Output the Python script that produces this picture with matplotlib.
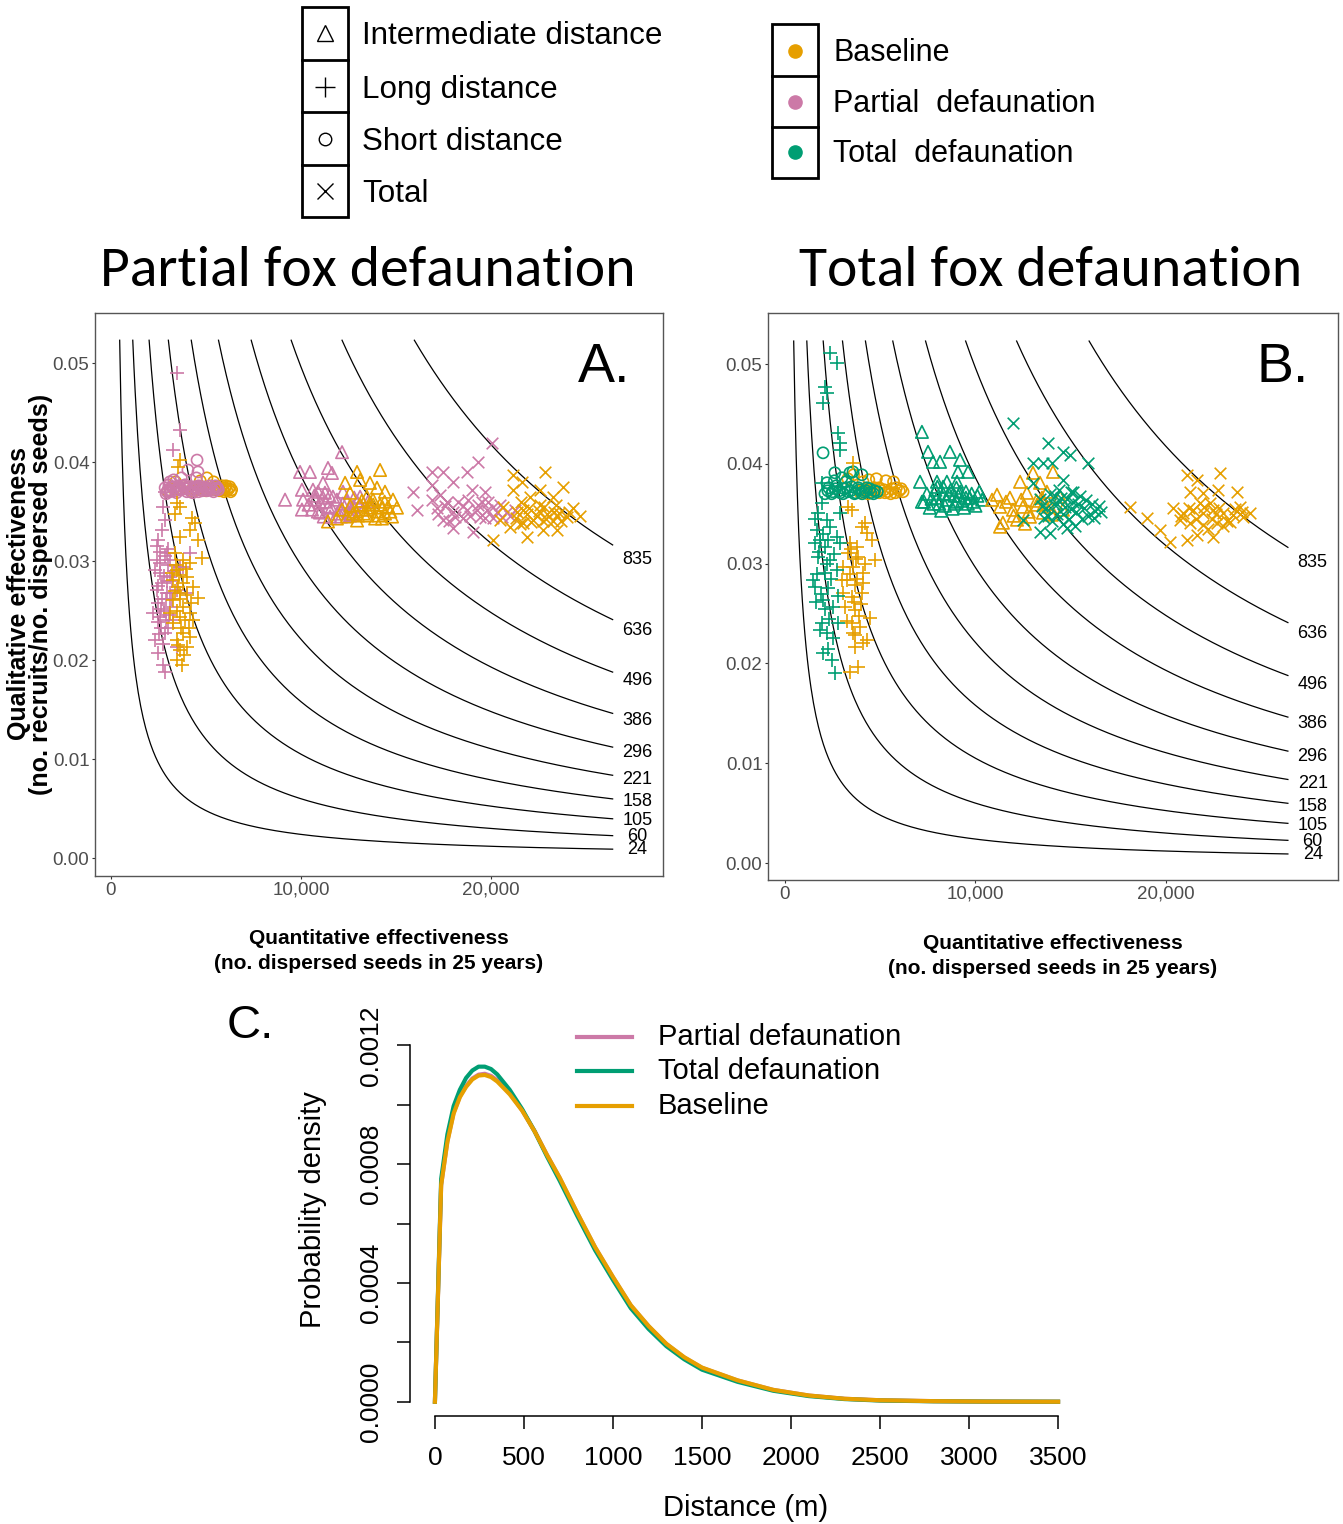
import numpy as np
import matplotlib
matplotlib.use('Agg')
import matplotlib.pyplot as plt
from matplotlib import font_manager
from matplotlib.patches import Rectangle

W, H = 1343, 1524

have = {f.name for f in font_manager.fontManager.ttflist}
narrow = 'Liberation Sans Narrow' if 'Liberation Sans Narrow' in have else 'Liberation Sans'
sans = 'Liberation Sans'
title_font = 'Carlito' if 'Carlito' in have else 'Open Sans'

c_base = '#E69F00'
c_part = '#CC79A7'
c_tot = '#009E73'

# isoclines (no. recruits)
iso_levels = [24, 60, 105, 158, 221, 296, 386, 496, 636, 835]

# ---------------- panel A : partial fox defaunation ----------------
a_base_short_x = [3000, 3300, 3600, 3900, 4200, 4400, 4600, 4800, 5000, 5050, 5200, 5400, 5550, 5700, 5800, 5900, 6000, 6100, 6200, 6350, 4700, 5400, 3400,
                  6250, 6300, 6050, 5950, 5650, 5850]
a_base_short_y = [.0371, .0373, .0372, .0374, .0371, .0373, .0372, .0374, .0371, .0384, .0373, .0372, .0375, .0371, .0373, .0372, .0374, .0371, .0373, .0372, .0381, .0380, .0380,
                  .0375, .0370, .0376, .0370, .0374, .0376]
a_part_short_x = [2850, 2900, 3050, 3150, 3300, 3450, 3550, 3700, 3850, 4000, 4150, 4300, 4450, 4600, 4750, 4900, 5050, 5200, 5350, 5500, 5650, 3300, 3700, 4050, 4500, 3100, 4530, 4580, 2950,
                  3000, 3200, 3400, 3600, 3800, 4000, 4200, 4400, 4600, 4800, 5000, 5200, 5400, 5600, 3100, 3500, 3900, 4300, 4700, 5100, 5500]
a_part_short_y = [.0374, .0368, .0377, .0371, .0374, .0369, .0376, .0372, .0374, .0370, .0375, .0372, .0374, .0370, .0373, .0375, .0371, .0374, .0372, .0373, .0372, .0382, .0384, .0392, .0384, .0380, .0402, .0390, .0370,
                  .0372, .0375, .0371, .0374, .0376, .0373, .0370, .0375, .0376, .0371, .0373, .0376, .0370, .0374, .0370, .0372, .0377, .0369, .0375, .0372, .0376]
a_part_long_x = [3460, 3630, 3260, 2840, 2740, 2840, 2680, 2470, 2580, 2950, 2420, 3110, 4160, 2580, 3110, 3630, 2420, 2950, 3470, 2470, 3110, 4000, 2580, 3260, 2320, 2840, 2470, 3470, 2740, 2840, 2210, 2320, 3790, 2700, 2900, 3000, 2800, 3200, 2650, 3000,
                 2400, 2600, 2800, 3000, 3200, 2500, 2700, 2900, 3100, 3300, 2450, 2650, 2850, 3050, 2550, 2750, 2950]
a_part_long_y = [.0490, .0432, .0412, .0370, .0355, .0341, .0331, .0321, .0309, .0308, .0301, .0301, .0308, .0288, .0284, .0294, .0271, .0268, .0271, .0258, .0254, .0268, .0244, .0240, .0220, .0227, .0207, .0213, .0195, .0188, .0248, .0291, .0294, .0278, .0262, .0296, .0250, .0280, .0232, .0232,
                 .0315, .0298, .0285, .0312, .0262, .0275, .0262, .0240, .0268, .0290, .0238, .0252, .0305, .0246, .0226, .0216, .0280]
a_base_long_x = [3630, 3530, 3470, 3630, 3370, 4420, 4160, 3630, 4580, 4260, 3370, 3790, 4790, 3470, 4000, 3260, 4320, 3630, 3260, 3790, 4580, 4160, 3630, 3260, 4320, 3790, 3470, 4160, 3630, 4000, 3470, 3740, 3210, 3530, 3110,
                 3400, 3600, 3800, 4000, 4200, 3500, 3700, 3900, 4100, 3350, 3650, 3950, 3550, 3850, 4150]
a_base_long_y = [.0402, .0395, .0359, .0355, .0348, .0338, .0331, .0324, .0321, .0344, .0308, .0301, .0303, .0291, .0284, .0281, .0274, .0268, .0261, .0254, .0263, .0248, .0244, .0237, .0240, .0227, .0220, .0223, .0210, .0213, .0200, .0195, .0288, .0274, .0248,
                 .0296, .0286, .0278, .0266, .0258, .0250, .0232, .0240, .0232, .0270, .0262, .0292, .0215, .0205, .0298]
a_part_mid_x = [9160, 9950, 10470, 12160, 11420, 11630, 10050, 10630, 11160, 10110, 10740, 10050, 10580, 11260, 11000, 11420, 11890, 12050, 12420, 12740, 13110, 13260, 11530, 12580, 10890, 11680, 12210, 11160, 13530, 12950,
                10400, 10700, 11000, 11300, 11600, 11900, 12200, 12500, 12800, 13100, 10900, 11500, 12100, 12700, 11200]
a_part_mid_y = [.0362, .0390, .0390, .0410, .0394, .0389, .0372, .0372, .0379, .0362, .0362, .0352, .0352, .0369, .0359, .0355, .0362, .0352, .0360, .0355, .0365, .0352, .0345, .0346, .0350, .0365, .0370, .0364, .0360, .0360,
                .0357, .0366, .0349, .0360, .0354, .0348, .0358, .0350, .0364, .0357, .0370, .0366, .0345, .0347, .0345]
a_base_mid_x = [14160, 12950, 13110, 13630, 12320, 14420, 14000, 14840, 12580, 13470, 13790, 14160, 14580, 15050, 13630, 13110, 14000, 14420, 13470, 12740, 12420, 11420, 11890, 14790, 12160, 12950, 14260, 13630,
                12600, 12900, 13200, 13500, 13800, 14100, 14400, 14700, 13000, 13300, 13900, 14300]
a_base_mid_y = [.0392, .0390, .0382, .0379, .0379, .0370, .0374, .0362, .0369, .0365, .0362, .0357, .0355, .0354, .0354, .0357, .0350, .0348, .0346, .0348, .0345, .0340, .0343, .0345, .0352, .0341, .0343, .0359,
                .0356, .0350, .0361, .0352, .0357, .0346, .0360, .0350, .0346, .0348, .0343, .0354]
a_part_tot_x = [20050, 15890, 16110, 19320, 16890, 17470, 18740, 18000, 16890, 17320, 19000, 19680, 17680, 18260, 18740, 18000, 19260, 19790, 20320, 20840, 21260, 17470, 18530, 19420, 20110, 18000, 19050, 17160, 19840, 20470, 16890,
                17200, 17600, 18100, 18500, 18900, 19300, 19700, 20100, 20600, 21000, 17800, 18800, 19500]
a_part_tot_y = [.0419, .0370, .0352, .0400, .0390, .0390, .0390, .0380, .0362, .0367, .0372, .0370, .0360, .0360, .0352, .0350, .0352, .0352, .0350, .0350, .0352, .0341, .0343, .0345, .0343, .0333, .0329, .0354, .0360, .0357, .0377,
                .0348, .0356, .0345, .0356, .0346, .0357, .0344, .0355, .0345, .0346, .0340, .0362, .0360]
a_base_tot_x = [22840, 21160, 21630, 23790, 21160, 22580, 22050, 23260, 24320, 20630, 21370, 21890, 22420, 22950, 23470, 24000, 22210, 22740, 23260, 21680, 21000, 20110, 21890, 22740, 23470, 24680, 20470, 22580, 21580, 23420,
                21300, 21700, 22100, 22500, 22900, 23300, 23700, 24100, 22000, 22800, 23600, 21500]
a_base_tot_y = [.0390, .0387, .0380, .0375, .0372, .0372, .0365, .0365, .0354, .0355, .0350, .0348, .0346, .0348, .0346, .0345, .0341, .0340, .0340, .0338, .0334, .0321, .0324, .0331, .0331, .0346, .0341, .0357, .0360, .0357,
                .0344, .0352, .0339, .0351, .0342, .0350, .0340, .0350, .0354, .0355, .0349, .0337]

# ---------------- panel B : total fox defaunation ----------------
b_base_short_x = [3950, 4200, 4450, 4700, 4950, 5200, 5400, 5600, 5800, 6000, 6200, 4400, 4800, 5300, 5700, 4100, 3300, 3600,
                  4050, 4350, 4650, 4950, 5250, 5550, 5850, 6100]
b_base_short_y = [.0371, .0375, .0372, .0376, .0371, .0374, .0372, .0375, .0371, .0373, .0372, .0384, .0385, .0383, .0382, .0382, .0385, .0389,
                  .0374, .0370, .0373, .0376, .0371, .0370, .0376, .0375]
b_tot_short_x = [2000, 2620, 3410, 3570, 4040, 2990, 2100, 2300, 2500, 2700, 2900, 3100, 3300, 3500, 3700, 3900, 4100, 4300, 4500, 4700, 4850, 2200, 2600, 3200,
                 2250, 2450, 2650, 2850, 3050, 3250, 3450, 3650, 3850, 4050, 4250, 4450, 4650]
b_tot_short_y = [.0411, .0391, .0391, .0392, .0389, .0386, .0370, .0376, .0372, .0378, .0371, .0375, .0372, .0377, .0371, .0374, .0372, .0376, .0371, .0373, .0372, .0381, .0383, .0382,
                 .0373, .0370, .0375, .0373, .0370, .0376, .0373, .0370, .0376, .0370, .0373, .0375, .0370]
b_tot_long_x = [2360, 2730, 2100, 2200, 2000, 2780, 2890, 2890, 1940, 1940, 1730, 2890, 2200, 1680, 2360, 2730, 1570, 2100, 2890, 1730, 2360, 2100, 2730, 1570, 2260, 2000, 2520, 1840, 2200, 2780, 2000, 2470, 2620, 1470, 1840, 2260,
                1600, 1800, 2000, 2200, 2400, 2600, 2800, 1700, 1900, 2100, 2300, 2500, 1650, 1950, 2250]
b_tot_long_y = [.0511, .0501, .0477, .0471, .0461, .0431, .0421, .0414, .0381, .0361, .0351, .0351, .0344, .0334, .0337, .0327, .0321, .0317, .0321, .0307, .0304, .0291, .0294, .0277, .0276, .0264, .0257, .0233, .0230, .0240, .0210, .0203, .0190, .0284, .0324, .0324,
                .0345, .0312, .0330, .0300, .0285, .0310, .0268, .0290, .0270, .0255, .0245, .0225, .0262, .0240, .0214]
b_base_long_x = [3570, 3310, 3520, 4200, 4300, 4040, 4570, 4720, 3410, 3310, 3830, 3040, 3570, 4090, 3250, 3670, 3040, 3520, 4040, 3150, 3670, 4460, 3250, 3940, 3570, 4090, 3670, 3830, 3410, 4300, 2990, 3780,
                 3400, 3600, 3800, 4000, 4200, 3500, 3700, 3900, 4100, 3450, 3750]
b_base_long_y = [.0401, .0357, .0354, .0341, .0331, .0337, .0324, .0304, .0321, .0311, .0307, .0297, .0297, .0291, .0284, .0279, .0271, .0267, .0271, .0257, .0254, .0246, .0243, .0236, .0230, .0220, .0216, .0196, .0191, .0223, .0284, .0317,
                 .0290, .0262, .0285, .0260, .0300, .0240, .0228, .0248, .0281, .0315, .0305]
b_tot_mid_x = [7190, 7510, 8660, 7770, 8140, 9190, 9080, 9610, 7090, 7980, 8500, 9030, 7190, 7450, 7700, 7900, 8100, 8300, 8500, 8700, 8900, 9100, 9300, 9500, 9700, 9900, 10100, 10350, 7600, 8200, 8800, 9400, 8000, 9000, 7300,
               7800, 8000, 8400, 8600, 9000, 9200, 9600, 9800, 10000, 10200, 8300, 8900, 9500]
b_tot_mid_y = [.0432, .0412, .0412, .0402, .0402, .0404, .0392, .0392, .0382, .0382, .0382, .0382, .0362, .0370, .0365, .0374, .0360, .0370, .0364, .0374, .0360, .0368, .0363, .0372, .0366, .0362, .0368, .0364, .0356, .0353, .0355, .0356, .0377, .0376, .0362,
               .0360, .0366, .0358, .0370, .0362, .0372, .0360, .0370, .0358, .0372, .0377, .0368, .0366]
b_base_mid_x = [14070, 13020, 12340, 13390, 11130, 11810, 12700, 13750, 14440, 11290, 11970, 12490, 13230, 13910, 14590, 11440, 12180, 12860, 11290, 13540, 10870, 13490,
                11600, 12000, 12400, 12800, 13200, 13600, 14000, 12600]
b_base_mid_y = [.0392, .0391, .0382, .0381, .0369, .0366, .0371, .0372, .0367, .0357, .0354, .0357, .0359, .0357, .0354, .0341, .0344, .0347, .0337, .0351, .0364, .0366,
                .0362, .0348, .0364, .0352, .0363, .0360, .0349, .0340]
b_tot_tot_x = [11970, 13810, 14590, 14960, 15910, 13020, 13540, 14020, 14590, 13020, 15120, 13400, 13700, 13900, 14100, 14300, 14500, 14700, 14900, 15100, 15300, 15500, 15700, 15900, 16100, 16300, 16600, 14000, 14600, 15200, 13600, 14400, 15000, 13390, 13910, 14800, 12490,
               13500, 13800, 14200, 14600, 15000, 15400, 15800, 16200, 14800, 15600, 16500, 14300]
b_tot_tot_y = [.0441, .0421, .0412, .0409, .0401, .0401, .0401, .0401, .0384, .0381, .0372, .0365, .0356, .0370, .0360, .0350, .0366, .0357, .0345, .0362, .0352, .0368, .0356, .0348, .0360, .0353, .0352, .0343, .0340, .0338, .0346, .0374, .0372, .0332, .0331, .0336, .0344,
               .0358, .0348, .0368, .0350, .0355, .0360, .0364, .0346, .0365, .0345, .0358, .0360]
b_base_tot_x = [18110, 19000, 19690, 20210, 21100, 22830, 21630, 21260, 21940, 22730, 23730, 20370, 20890, 21420, 21940, 22470, 22990, 23520, 24040, 24410, 21260, 21940, 22680, 23360, 21630, 22470, 21100, 20730, 22310, 23890, 21790,
                20800, 21200, 21600, 22000, 22400, 22800, 23200, 23600, 24000, 22200, 22600, 23000]
b_base_tot_y = [.0357, .0346, .0334, .0322, .0389, .0391, .0384, .0372, .0371, .0374, .0372, .0356, .0351, .0354, .0351, .0354, .0351, .0349, .0347, .0351, .0341, .0339, .0341, .0342, .0329, .0327, .0324, .0344, .0361, .0357, .0361,
                .0348, .0356, .0345, .0357, .0345, .0356, .0343, .0355, .0352, .0335, .0350, .0338]

# ---------------- panel C : dispersal kernels ----------------
dist_m = [0, 35, 70, 105, 140, 175, 210, 245, 280, 315, 350, 420, 490, 560, 630, 700, 800, 900, 1000, 1100, 1200, 1300, 1400, 1500, 1700, 1900, 2100, 2300, 2500, 2800, 3100, 3500]
dens_base = [0, 0.00073, 0.000875, 0.00097, 0.001025, 0.00106, 0.001085, 0.001098, 0.0011, 0.001093, 0.001078, 0.001035, 0.00098, 0.00091, 0.00083, 0.000755, 0.000635, 0.00052, 0.00042, 0.000325, 0.000255, 0.000195, 0.00015, 0.000115, 0.000072, 0.00004, 0.000021, 0.00001, 0.000005, 0.000002, 0.0000006, 0.0000001]
dens_part = [0, 0.00073, 0.000878, 0.000973, 0.001028, 0.001063, 0.001088, 0.001101, 0.001104, 0.001097, 0.001082, 0.001038, 0.000981, 0.000911, 0.00083, 0.000754, 0.000634, 0.000519, 0.000419, 0.000324, 0.000254, 0.000194, 0.000149, 0.000114, 0.0000715, 0.0000398, 0.0000209, 0.00001, 0.000005, 0.000002, 0.0000006, 0.0000001]
dens_tot = [0, 0.00075, 0.0009, 0.000995, 0.00105, 0.00109, 0.001115, 0.001128, 0.001128, 0.00112, 0.001102, 0.00105, 0.000985, 0.00091, 0.000825, 0.000745, 0.000625, 0.00051, 0.00041, 0.000315, 0.000245, 0.000187, 0.000143, 0.000108, 0.000067, 0.000037, 0.000019, 0.000009, 0.000004, 0.0000015, 0.0000005, 0.0000001]

fig = plt.figure(figsize=(W / 100, H / 100), dpi=100)


def px_axes(l, t, r, b):
    return fig.add_axes([l / W, 1 - b / H, (r - l) / W, (b - t) / H])


def draw_panel(ax, groups, xlim, ylim):
    for c in iso_levels:
        xs = np.linspace(c / 0.0523, 26400, 400)
        ax.plot(xs, c / xs, color='black', lw=0.9, zorder=1)
        ax.text(27700, c / 27700, str(c), family=narrow, fontsize=13,
                ha='center', va='center', zorder=3)
    for x, y, m, col in groups:
        if m in ('o', '^'):
            ax.scatter(x, y, marker=m, facecolors='none', edgecolors=col,
                       s=64 if m == 'o' else 80, linewidths=1.2, zorder=2)
        else:
            ax.scatter(x, y, marker=m, c=col, s=95 if m == '+' else 70,
                       linewidths=1.2, zorder=2)
    ax.set_xlim(*xlim)
    ax.set_ylim(*ylim)
    ax.set_xticks([0, 10000, 20000])
    ax.set_xticklabels(['0', '10,000', '20,000'])
    ax.set_yticks([0, 0.01, 0.02, 0.03, 0.04, 0.05])
    ax.set_yticklabels(['0.00', '0.01', '0.02', '0.03', '0.04', '0.05'])
    ax.tick_params(length=2.5, width=0.8, color='#333333', labelcolor='#4D4D4D',
                   labelsize=13.5, pad=1.5)
    for lab in ax.get_xticklabels() + ax.get_yticklabels():
        lab.set_family(narrow)
    for sp in ax.spines.values():
        sp.set_color('#555555')
        sp.set_linewidth(1.0)


axA = px_axes(95, 313, 663, 876)
draw_panel(axA, [
    (a_base_short_x, a_base_short_y, 'o', c_base),
    (a_part_short_x, a_part_short_y, 'o', c_part),
    (a_part_long_x, a_part_long_y, '+', c_part),
    (a_base_long_x, a_base_long_y, '+', c_base),
    (a_part_mid_x, a_part_mid_y, '^', c_part),
    (a_base_mid_x, a_base_mid_y, '^', c_base),
    (a_part_tot_x, a_part_tot_y, 'x', c_part),
    (a_base_tot_x, a_base_tot_y, 'x', c_base),
], (-840, 29050), (-0.0018, 0.05505))

axB = px_axes(768, 313, 1338, 880)
draw_panel(axB, [
    (b_base_short_x, b_base_short_y, 'o', c_base),
    (b_tot_short_x, b_tot_short_y, 'o', c_tot),
    (b_base_long_x, b_base_long_y, '+', c_base),
    (b_tot_long_x, b_tot_long_y, '+', c_tot),
    (b_tot_mid_x, b_tot_mid_y, '^', c_tot),
    (b_base_mid_x, b_base_mid_y, '^', c_base),
    (b_base_tot_x, b_base_tot_y, 'x', c_base),
    (b_tot_tot_x, b_tot_tot_y, 'x', c_tot),
], (-890, 29030), (-0.0017, 0.05511))

# panel C
axC = px_axes(410, 1031, 1083, 1416)
axC.plot(dist_m, dens_part, color=c_part, lw=3)
axC.plot(dist_m, dens_tot, color=c_tot, lw=3)
axC.plot(dist_m, dens_base, color=c_base, lw=3)
axC.set_xlim(-140, 3640)
axC.set_ylim(-0.000048, 0.001248)
axC.spines['top'].set_visible(False)
axC.spines['right'].set_visible(False)
axC.spines['left'].set_bounds(0, 0.0012)
axC.spines['bottom'].set_bounds(0, 3500)
axC.spines['left'].set_linewidth(1.1)
axC.spines['bottom'].set_linewidth(1.1)
axC.set_xticks([0, 500, 1000, 1500, 2000, 2500, 3000, 3500])
axC.set_yticks([0, 0.0002, 0.0004, 0.0006, 0.0008, 0.001, 0.0012])
axC.set_yticklabels(['0.0000', '', '0.0004', '', '0.0008', '', '0.0012'],
                    rotation=90, va='center')
axC.tick_params(length=9.5, width=1.1, labelsize=19)
axC.tick_params(axis='x', pad=12)
axC.tick_params(axis='y', pad=10)
for lab in axC.get_xticklabels() + axC.get_yticklabels():
    lab.set_family(sans)

# overlay for free text and legends (pixel coordinates)
ov = fig.add_axes([0, 0, 1, 1])
ov.set_xlim(0, W)
ov.set_ylim(H, 0)
ov.axis('off')

# shape legend
ov.add_patch(Rectangle((302, 7), 46, 210, fill=False, lw=2, ec='black'))
for yy in [60, 112, 165]:
    ov.plot([302, 348], [yy, yy], color='black', lw=2)
shape_labels = ['Intermediate distance', 'Long distance', 'Short distance', 'Total']
shape_marks = ['^', '+', 'o', 'x']
shape_ms = [12, 15, 9, 11]
for i, (lab, m) in enumerate(zip(shape_labels, shape_marks)):
    yy = [33, 87, 139, 191][i]
    ov.plot(325, yy, marker=m, ms=shape_ms[i], mfc='none', mec='black', mew=1.0)
    ov.text(362, yy + 3, lab, family=sans, fontsize=22.6, va='center', ha='left')

# colour legend
ov.add_patch(Rectangle((772, 24), 46, 154, fill=False, lw=2, ec='black'))
for yy in [76, 127]:
    ov.plot([772, 818], [yy, yy], color='black', lw=2)
col_labels = ['Baseline', 'Partial  defaunation', 'Total  defaunation']
for i, (lab, col) in enumerate(zip(col_labels, [c_base, c_part, c_tot])):
    yy = [51, 102, 152][i]
    ov.plot(795, yy, marker='o', ms=9.5, color=col)
    ov.text(833, yy + 2, lab, family=sans, fontsize=22, va='center', ha='left')

# titles
ov.text(368, 271, 'Partial fox defaunation', family=title_font, fontsize=41.5,
        ha='center', va='center')
ov.text(1051, 271, 'Total fox defaunation', family=title_font, fontsize=41.5,
        ha='center', va='center')
ov.text(604, 368, 'A.', family=sans, fontsize=40, ha='center', va='center')
ov.text(1283, 368, 'B.', family=sans, fontsize=40, ha='center', va='center')
ov.text(250, 1026, 'C.', family=sans, fontsize=34, ha='center', va='center')

# axis labels A/B
for cx, cy in [(379, 951), (1053, 956)]:
    ov.text(cx, cy, 'Quantitative effectiveness\n(no. dispersed seeds in 25 years)',
            family=narrow, fontweight='bold', fontsize=15, ha='center',
            va='center', linespacing=1.45)
ov.text(30, 594, 'Qualitative effectiveness\n(no. recruits/no. dispersed seeds)',
        family=sans, fontweight='bold', fontsize=18, ha='center', va='center',
        rotation=90, linespacing=0.85)

# panel C labels and legend
ov.text(746, 1508, 'Distance (m)', family=sans, fontsize=21, ha='center', va='center')
ov.text(313, 1210, 'Probability density', family=sans, fontsize=21, ha='center',
        va='center', rotation=90)
for i, (lab, col) in enumerate(zip(['Partial defaunation', 'Total defaunation', 'Baseline'],
                                    [c_part, c_tot, c_base])):
    yy = [1037, 1071, 1106][i]
    ov.plot([577, 632], [yy, yy], color=col, lw=3)
    ov.text(658, yy, lab, family=sans, fontsize=21, ha='left', va='center')

fig.savefig('out.png', dpi=100)
